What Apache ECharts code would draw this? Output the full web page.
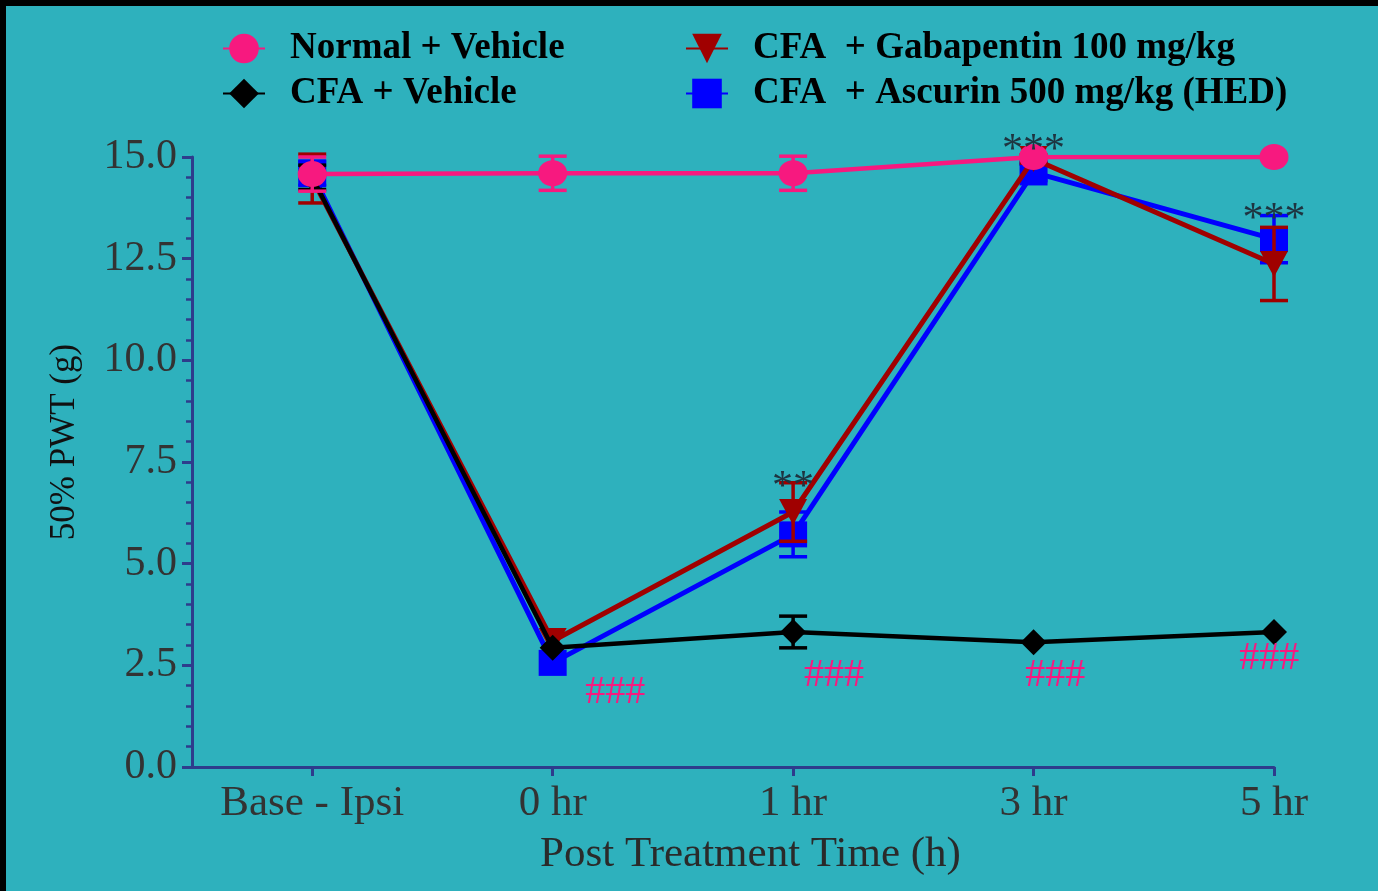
<!DOCTYPE html>
<html><head><meta charset="utf-8">
<script src="https://cdn.jsdelivr.net/npm/echarts@6/dist/echarts.min.js"></script>
<style>html,body{margin:0;padding:0;background:#000;}#c{width:1378px;height:891px;}</style>
</head><body><div id="c"></div>
<script>
const categories = ['Base - Ipsi', '0 hr', '1 hr', '3 hr', '5 hr'];
const yTicks = [0, 2.5, 5, 7.5, 10, 12.5, 15];

const normalVals = [14.58, 14.6, 14.6, 15.0, 15.0];
const normalErr  = [0.42, 0.42, 0.42, 0, 0];
const cfaVals    = [14.5, 2.93, 3.32, 3.07, 3.32];
const cfaErr     = [0.3, 0, 0.39, 0, 0];
const gabaVals   = [14.47, 3.1, 6.27, 14.95, 12.37];
const gabaErr    = [0.6, 0, 0.72, 0.1, 0.9];
const ascVals    = [14.6, 2.56, 5.72, 14.62, 12.98];
const ascErr     = [0.3, 0, 0.55, 0.2, 0.58];

const annoX    = [3, 4, 2, 1.26, 2.17, 3.09, 3.98];
const annoY    = [15.15, 13.45, 6.85, 1.84, 2.24, 2.24, 2.68];
const annoText = ['***', '***', '**', '###', '###', '###', '###'];
const annoKind = ['star', 'star', 'star', 'hash', 'hash', 'hash', 'hash'];

const names = ['Normal + Vehicle', 'CFA + Vehicle', 'CFA  + Gabapentin 100 mg/kg', 'CFA  + Ascurin 500 mg/kg (HED)'];
const colors = ['#F7197F', '#000000', '#A00000', '#0000FF'];

const serif = '"Liberation Serif", "DejaVu Serif", serif';
const axisColor = '#2E3C8C';

function pts(vals) { return vals.map((v, i) => [i, v]); }
function errData(vals, errs) { return vals.map((v, i) => [i, v - errs[i], v + errs[i]]); }
function errRender(color, lw) {
  return function (params, api) {
    const x = api.value(0), lo = api.value(1), hi = api.value(2);
    if (hi - lo <= 0) return null;
    const p1 = api.coord([x, lo]), p2 = api.coord([x, hi]);
    const cw = 14;
    const st = { stroke: color, lineWidth: lw };
    return { type: 'group', children: [
      { type: 'line', shape: { x1: p1[0], y1: p1[1], x2: p2[0], y2: p2[1] }, style: st },
      { type: 'line', shape: { x1: p1[0] - cw, y1: p1[1], x2: p1[0] + cw, y2: p1[1] }, style: st },
      { type: 'line', shape: { x1: p2[0] - cw, y1: p2[1], x2: p2[0] + cw, y2: p2[1] }, style: st }
    ]};
  };
}

function lineSeries(idx, vals, symbol, size, lw, z, rotate) {
  return {
    name: names[idx], type: 'line', data: pts(vals), symbol: symbol, symbolSize: size,
    symbolRotate: rotate || 0, z: z, showSymbol: true,
    itemStyle: { color: colors[idx], opacity: 1 }, lineStyle: { color: colors[idx], width: lw },
    emphasis: { disabled: true }, animation: false
  };
}
function errSeries(idx, vals, errs, z) {
  return { type: 'custom', data: errData(vals, errs), renderItem: errRender(colors[idx], 3.5),
    encode: { x: 0, y: [1, 2] }, z: z, animation: false, silent: true };
}

const legendText = { fontFamily: serif, fontWeight: 'bold', fontSize: 37, color: '#000', padding: [0, 0, 0, 20] };

const chart = echarts.init(document.getElementById('c'));
chart.setOption({
  backgroundColor: '#2EB1BD',
  animation: false,
  grid: { left: 192, right: 104, top: 157, bottom: 124, containLabel: false, outerBoundsMode: 'none' },
  graphic: [
    { type: 'rect', shape: { x: 0, y: 0, width: 1378, height: 6 }, style: { fill: '#000' }, z: 100 },
    { type: 'rect', shape: { x: 0, y: 0, width: 6, height: 891 }, style: { fill: '#000' }, z: 100 }
  ],
  legend: [
    { data: [names[0], names[1]], orient: 'vertical', left: 222, top: 30, itemGap: 8, padding: 0,
      itemWidth: 42, itemHeight: 37, selectedMode: false, textStyle: legendText },
    { data: [names[2], names[3]], orient: 'vertical', left: 685, top: 30, itemGap: 8, padding: 0,
      itemWidth: 42, itemHeight: 37, selectedMode: false, textStyle: legendText }
  ],
  xAxis: {
    type: 'value', min: -0.5, max: 4,
    name: 'Post Treatment Time (h)', nameLocation: 'middle', nameGap: 66, nameMoveOverlap: false,
    nameTextStyle: { fontFamily: serif, fontSize: 43, color: '#2a2a2a', padding: [0, 0, 0, 35] },
    axisLine: { show: true, onZero: false, lineStyle: { color: axisColor, width: 3 } },
    axisTick: { show: true, length: 9, lineStyle: { color: axisColor, width: 3 }, customValues: [0, 1, 2, 3, 4] },
    axisLabel: { customValues: [0, 1, 2, 3, 4], formatter: v => categories[Math.round(v)] || '',
      fontFamily: serif, fontSize: 43, color: '#333', margin: 15 },
    splitLine: { show: false }
  },
  yAxis: {
    type: 'value', min: 0, max: 15, interval: 2.5,
    name: '50% PWT (g)', nameLocation: 'middle', nameGap: 110, nameMoveOverlap: false,
    nameTextStyle: { fontFamily: serif, fontSize: 35, color: '#111', padding: [0, 0, 0, 40] },
    axisLine: { show: true, onZero: false, lineStyle: { color: axisColor, width: 3 } },
    axisTick: { show: true, length: 10, lineStyle: { color: axisColor, width: 3 } },
    minorTick: { show: true, splitNumber: 5, length: 6, lineStyle: { color: axisColor, width: 2.5 } },
    axisLabel: { formatter: v => v.toFixed(1), fontFamily: serif, fontSize: 42, color: '#333', margin: 15 },
    splitLine: { show: false }
  },
  series: [
    lineSeries(3, ascVals, 'rect', [28, 26], 5, 2),
    errSeries(3, ascVals, ascErr, 2),
    lineSeries(2, gabaVals, 'triangle', [28, 26], 5, 3, 180),
    errSeries(2, gabaVals, gabaErr, 3),
    lineSeries(1, cfaVals, 'diamond', [26, 26], 4.5, 4),
    errSeries(1, cfaVals, cfaErr, 4),
    lineSeries(0, normalVals, 'circle', [29, 26], 4.5, 5),
    errSeries(0, normalVals, normalErr, 5),
    {
      type: 'custom', data: annoX.map((x, i) => [x, annoY[i], i]), encode: { x: 0, y: 1 },
      z: 10, silent: true, animation: false, clip: false,
      renderItem: function (params, api) {
        const i = api.value(2);
        const p = api.coord([api.value(0), api.value(1)]);
        const star = annoKind[i] === 'star';
        return { type: 'text', x: p[0], y: p[1], style: {
          text: annoText[i], fill: star ? '#1E3440' : '#F7197F',
          font: (star ? '42px ' : '40px ') + serif, textAlign: 'center', textVerticalAlign: 'middle'
        }};
      }
    }
  ]
});
</script></body></html>
